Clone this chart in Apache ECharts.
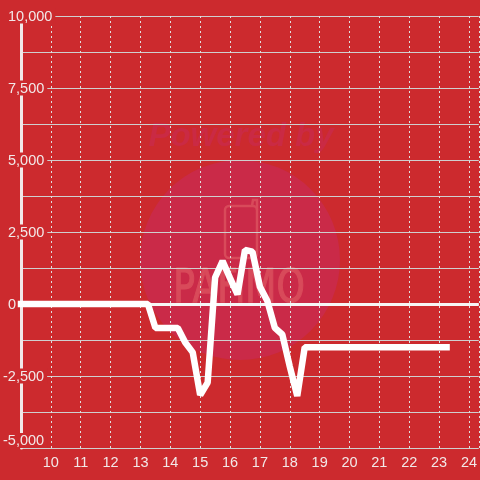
<!DOCTYPE html>
<html>
<head>
<meta charset="utf-8">
<style>
  html, body { margin: 0; padding: 0; background: #cc2a2e; }
  #chart { width: 480px; height: 480px; }
</style>
<script src="https://cdn.jsdelivr.net/npm/echarts@6/dist/echarts.min.js"></script>
</head>
<body>
<div id="chart"></div>
<script>
// hour of day / value
var hours = [9, 13.25, 13.5, 14.25, 14.5, 14.75, 15, 15.25, 15.5, 15.75, 16, 16.25, 16.5, 16.75, 17, 17.25, 17.5, 17.75, 18, 18.25, 18.5, 23.25];
var values = [0, 0, -830, -830, -1340, -1680, -3160, -2730, 920, 1490, 900, 330, 1875, 1820, 600, 100, -830, -1060, -2170, -3195, -1500, -1500];

var red = '#cc2a2e';
var white = '#ffffff';
var pale = '#f2e8e8';

var points = [];
for (var i = 0; i < hours.length; i++) {
  points.push([hours[i], values[i]]);
}

var chart = echarts.init(document.getElementById('chart'));

var option = {
  backgroundColor: red,
  animation: false,
  grid: { left: 20, right: 0, top: 16, bottom: 32 },
  // faded logo behind the plot
  graphic: [
    { type: 'circle', z: -10, shape: { cx: 240, cy: 260, r: 100 }, style: { fill: '#ca2a48' } },
    { type: 'text', z: -10, style: { text: 'Powered by', x: 241, y: 137, align: 'center', verticalAlign: 'middle', font: 'italic bold 33px "Liberation Sans"', fill: '#ca2a44' } },
    { type: 'rect', z: -9, shape: { x: 225, y: 206, width: 32, height: 52, r: 4 }, style: { fill: 'none', stroke: '#d84a5a', lineWidth: 2.5 } },
    { type: 'polyline', z: -9, shape: { points: [[252, 206], [253, 200], [257, 200], [257, 210]] }, style: { fill: 'none', stroke: '#d84a5a', lineWidth: 2.5 } },
    { type: 'text', z: -9, x: 239, y: 290, scaleY: 1.3, style: { text: 'PAFiMO', x: 0, y: 0, align: 'center', verticalAlign: 'middle', font: '36px "DejaVu Sans"', fill: '#d84a5a', stroke: '#d84a5a', lineWidth: 1 } }
  ],
  xAxis: {
    type: 'value',
    min: 9,
    max: 24.33,
    interval: 1,
    axisLine: { show: false },
    axisTick: { show: false },
    axisLabel: {
      showMinLabel: false,
      showMaxLabel: false,
      margin: 7,
      fontFamily: 'Liberation Sans',
      fontSize: 14.5,
      color: pale
    },
    splitLine: { show: true, lineStyle: { color: '#e0e0e0', type: [2, 3], width: 1 } }
  },
  yAxis: {
    type: 'value',
    min: -5000,
    max: 10000,
    interval: 2500,
    axisLine: { show: true, onZero: false, lineStyle: { color: pale, width: 3 } },
    axisTick: { show: false },
    axisLabel: {
      margin: 18,
      align: 'left',
      verticalAlignMinLabel: 'bottom',
      backgroundColor: red,
      padding: [1, 3, 0, 0],
      lineHeight: 14,
      fontFamily: 'Liberation Sans',
      fontSize: 14.5,
      color: pale,
      formatter: function (v) {
        var s = v.toLocaleString('en-US');
        return v < 0 ? '{neg|' + s + '}' : '{pos|' + s + '}';
      },
      rich: {
        neg: { fontFamily: 'Liberation Sans', fontSize: 14.5, color: pale, lineHeight: 14 },
        pos: { fontFamily: 'Liberation Sans', fontSize: 14.5, color: pale, lineHeight: 14, padding: [0, 0, 0, 5] }
      }
    },
    splitLine: { show: true, lineStyle: { color: '#cfcfcf', width: 1 } },
    minorTick: { show: false, splitNumber: 2 },
    minorSplitLine: { show: true, lineStyle: { color: '#cfcfcf', width: 1 } }
  },
  series: [{
    type: 'line',
    data: points,
    showSymbol: false,
    clip: false,
    z: 5,
    lineStyle: { color: white, width: 6.5, cap: 'square', join: 'bevel' },
    markLine: {
      silent: true,
      symbol: 'none',
      label: { show: false },
      lineStyle: { color: '#f6f6f6', type: 'solid', width: 3 },
      data: [{ yAxis: 0 }]
    }
  }]
};

chart.setOption(option);
</script>
</body>
</html>
